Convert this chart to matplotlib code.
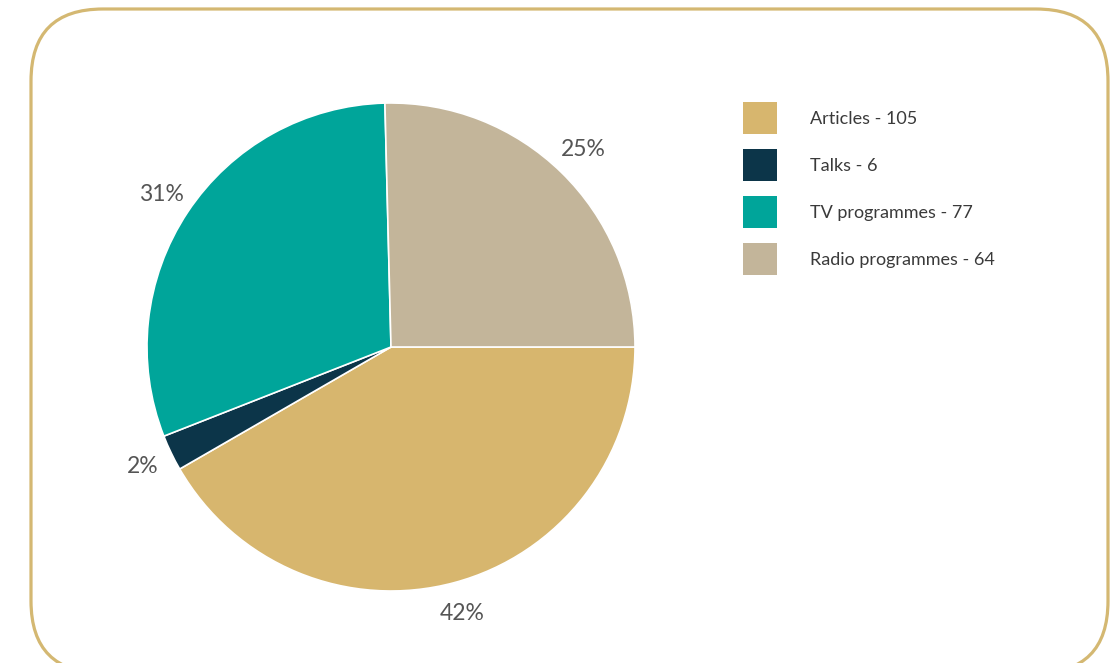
import matplotlib.pyplot as plt
from matplotlib.patches import FancyBboxPatch, Patch

# output breakdown
categories = ['Articles', 'Talks', 'TV programmes', 'Radio programmes']
counts = [105, 6, 77, 64]
colors = ['#D7B66E', '#0C3549', '#00A59A', '#C3B59A']

plt.rcParams['font.family'] = ['Lato', 'DejaVu Sans']

W, H = 1110, 663
fig = plt.figure(figsize=(W / 100, H / 100), dpi=100)

# background frame, drawn in pixel units (y up)
bg = fig.add_axes([0, 0, 1, 1])
bg.set_xlim(0, W)
bg.set_ylim(0, H)
bg.axis('off')
frame = FancyBboxPatch((31, -10), 1077, 664, boxstyle='round,pad=0,rounding_size=72',
                       facecolor='none', edgecolor='#D4B872', linewidth=2.3)
bg.add_patch(frame)

# pie
cx, cy, r = 391, 347, 244
ax = fig.add_axes([(cx - r) / W, (H - cy - r) / H, 2 * r / W, 2 * r / H])
wedges, texts, autotexts = ax.pie(
    counts, colors=colors, startangle=0, counterclock=False,
    autopct=lambda p: f'{p:.0f}%', pctdistance=1.13,
    wedgeprops=dict(edgecolor='white', linewidth=1.2),
    textprops=dict(fontsize=16.5, color='#555555'))
ax.set_xlim(-1, 1)
ax.set_ylim(-1, 1)
ax.set_aspect('equal')

# legend
labels = [f'{c} - {n}' for c, n in zip(categories, counts)]
handles = [Patch(facecolor=c, edgecolor='none') for c in colors]
fig.legend(handles, labels, loc='upper left', bbox_to_anchor=(736 / W, 1 - 95 / H),
           frameon=False, fontsize=13, handlelength=1.88, handleheight=2.35,
           labelspacing=0.83, handletextpad=1.83, borderaxespad=0,
           labelcolor='#3a3a3a')

fig.savefig('out.png', dpi=100)
